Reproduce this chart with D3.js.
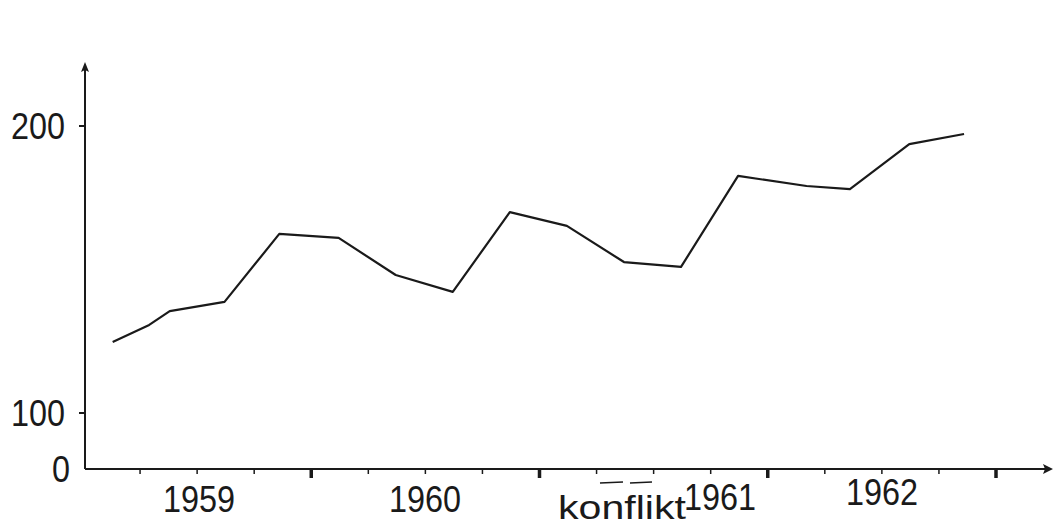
<!DOCTYPE html>
<html>
<head>
<meta charset="utf-8">
<script src="https://cdn.jsdelivr.net/npm/d3@7"></script>
<style>
  body { margin: 0; background: #fff; }
  svg text { font-family: "Liberation Sans", sans-serif; fill: #1a1a1a; }
</style>
</head>
<body>
<div id="chart"></div>
<script>
// time as decimal year
const times = [1959.13, 1959.29, 1959.38, 1959.62, 1959.86, 1960.12, 1960.37, 1960.62, 1960.87,
               1961.12, 1961.37, 1961.62, 1961.87, 1962.17, 1962.36, 1962.62, 1962.86];
const values = [124.7, 130.7, 135.5, 138.7, 162.4, 161.0, 148.1, 142.2, 170.0,
                165.2, 152.6, 150.9, 182.6, 179.1, 178.0, 193.7, 197.2];
const years = ['1959', '1960', '1961', '1962'];
const yTicks = [0, 100, 200];

const w = 1053;
const h = 527;
const ink = '#1a1a1a';

const svg = d3.select('#chart')
  .append('svg')
  .attr('width', w)
  .attr('height', h);

const xScale = d3.scaleLinear()
  .domain([1959, 1963])
  .range([83, 996]);

// axis is broken between 0 and 100
const yScale = d3.scaleLinear()
  .domain([0, 100, 200])
  .range([469, 413, 126]);

const x0 = 85;
const y0 = yScale(0);

// x axis with arrow
svg.append('line')
  .attr('x1', x0).attr('x2', 1048)
  .attr('y1', y0).attr('y2', y0)
  .attr('stroke', ink).attr('stroke-width', 2);
svg.append('path')
  .attr('d', d3.line()([[1053, y0], [1043, y0 - 5], [1045, y0], [1043, y0 + 5]]) + 'Z')
  .attr('fill', ink);

// y axis with arrow
svg.append('line')
  .attr('x1', x0).attr('x2', x0)
  .attr('y1', y0).attr('y2', 70)
  .attr('stroke', ink).attr('stroke-width', 2);
svg.append('path')
  .attr('d', d3.line()([[x0, 62], [x0 - 4, 72], [x0, 70], [x0 + 4, 72]]) + 'Z')
  .attr('fill', ink);

// quarter ticks and heavier year ticks
const quarters = d3.range(1959.25, 1963.01, 0.25);
svg.selectAll('.qtick')
  .data(quarters)
  .enter()
  .append('line')
  .attr('class', 'qtick')
  .attr('x1', (d) => xScale(d)).attr('x2', (d) => xScale(d))
  .attr('y1', y0)
  .attr('y2', (d) => Number.isInteger(d) ? y0 + 9 : y0 + 5)
  .attr('stroke', ink)
  .attr('stroke-width', (d) => Number.isInteger(d) ? 3.5 : 1.5);

// y ticks
svg.selectAll('.ytick')
  .data(yTicks.filter((d) => d > 0))
  .enter()
  .append('line')
  .attr('class', 'ytick')
  .attr('x1', x0 - 6).attr('x2', x0)
  .attr('y1', (d) => yScale(d)).attr('y2', (d) => yScale(d))
  .attr('stroke', ink).attr('stroke-width', 2);

// the original type is narrower than anything installed, so squeeze it a little
svg.selectAll('.ylabel')
  .data(yTicks)
  .enter()
  .append('text')
  .attr('class', 'ylabel')
  .attr('x', (d) => d === 0 ? 70 : 65)
  .attr('y', (d) => yScale(d))
  .attr('dy', '0.36em')
  .attr('text-anchor', 'end')
  .attr('textLength', (d) => String(d).length * 18)
  .attr('lengthAdjust', 'spacingAndGlyphs')
  .style('font-size', '37px')
  .text((d) => d);

// year labels, 1961 sits a bit right of centre next to "konflikt"
const yearX = [199, 425, 720, 882];
const yearY = [512, 512, 510, 505];
svg.selectAll('.year')
  .data(years)
  .enter()
  .append('text')
  .attr('class', 'year')
  .attr('x', (d, i) => yearX[i] - 36)
  .attr('y', (d, i) => yearY[i])
  .attr('textLength', 72)
  .attr('lengthAdjust', 'spacingAndGlyphs')
  .style('font-size', '37px')
  .text((d) => d);

svg.append('text')
  .attr('x', 558)
  .attr('y', 519)
  .attr('textLength', 128)
  .attr('lengthAdjust', 'spacingAndGlyphs')
  .style('font-size', '33px')
  .text('konflikt');

// the two short strokes over "konflikt"
svg.selectAll('.dash')
  .data([[600, 623], [630, 652]])
  .enter()
  .append('line')
  .attr('class', 'dash')
  .attr('x1', (d) => d[0]).attr('x2', (d) => d[1])
  .attr('y1', 483).attr('y2', 482)
  .attr('stroke', ink).attr('stroke-width', 1.5);

// the series
const data = times.map((t, i) => ({ t: t, v: values[i] }));
svg.append('path')
  .datum(data)
  .attr('fill', 'none')
  .attr('stroke', ink)
  .attr('stroke-width', 2.2)
  .attr('stroke-linejoin', 'round')
  .attr('d', d3.line().x((d) => xScale(d.t)).y((d) => yScale(d.v)));
</script>
</body>
</html>
